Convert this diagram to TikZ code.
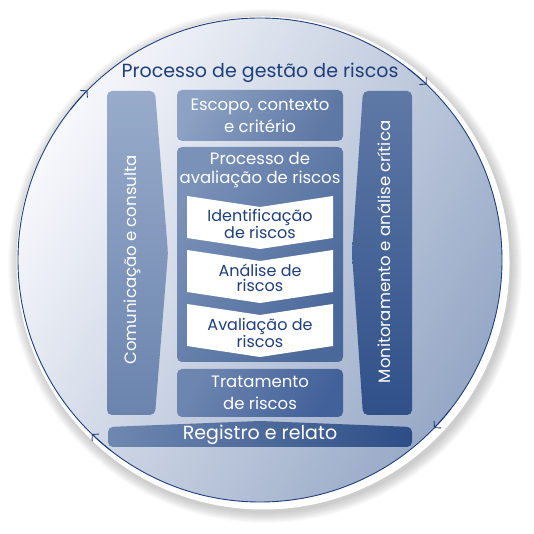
\documentclass[tikz,border=0pt]{standalone}
\usepackage{fontspec}
\setmainfont{Poppins}
\usetikzlibrary{arrows.meta}
\definecolor{navy}{HTML}{1E3F7B}
\definecolor{ringlight}{HTML}{F7F8FC}
\definecolor{ringdark}{HTML}{96A8C6}
\definecolor{commtop}{HTML}{98ABCA}
\definecolor{commbot}{HTML}{6B84AE}
\definecolor{montop}{HTML}{5F79A6}
\definecolor{monbot}{HTML}{2F5089}
\definecolor{escleft}{HTML}{8CA1C3}
\definecolor{escright}{HTML}{5E78A5}
\definecolor{procleft}{HTML}{7A91B8}
\definecolor{procright}{HTML}{4A6899}
\definecolor{tratleft}{HTML}{6D86B0}
\definecolor{tratright}{HTML}{42619A}
\definecolor{regleft}{HTML}{6F88B1}
\definecolor{regright}{HTML}{2C4D86}
\newcommand{\ChevPath}[1]{(187,#1) -- (260,#1-11) -- (333,#1) -- (333,#1-42) -- (260,#1-53) -- (187,#1-42) -- cycle}

\tikzset{
  panel/.style={rounded corners=5pt, inner sep=0pt},
  boxtext/.style={text=white, align=center, font=\fontsize{16.5}{22}\selectfont},
  chevtext/.style={text=navy, align=center, font=\fontsize{16}{15.5}\selectfont},
  ringarrow/.style={draw=navy, line width=0.9pt, -{Straight Barb[length=4.5pt,width=10pt]}},
}

\begin{document}
\begin{tikzpicture}[x=1pt,y=1pt]
    \useasboundingbox (0,0) rectangle (534,534);
    % Shadow, rim and ring
    \foreach \r in {247,...,257}
        \fill[black,opacity=0.018] (265,268) circle (\r);
    \fill[white] (263,271) circle (246.5);
    \shade[left color=ringlight, right color=ringdark, shading angle=60] (260,274) circle (242);
    \draw[navy, line width=0.9pt] (260,274) circle (242);
    \foreach \a in {135.5,46.5,-44,-134}
        \draw[ringarrow] (260,274) ++(\a+6:242) arc[start angle=\a+6, end angle=\a, radius=242];

    \node[text=navy, font=\fontsize{19}{22}\selectfont] (title) at (260,461) {Processo de gestão de riscos};

    % Side bars
    \path[panel, top color=commtop, bottom color=commbot] (107,443) -- (155,443) -- (168,281) -- (155,119) -- (107,119) -- cycle;
    \node[boxtext, rotate=90] (comunic) at (132,274) {Comunicação e consulta};
    \path[panel, top color=montop, bottom color=monbot] (363,443) -- (412,443) -- (412,119) -- (363,119) -- (352,281) -- cycle;
    \node[boxtext, rotate=90] (monitor) at (384,282) {Monitoramento e análise crítica};

    % Middle column
    \node[panel, left color=escleft, right color=escright, shading angle=60, minimum width=166pt, minimum height=51pt, boxtext] (escopo) at (260,418.5) {Escopo, contexto\\e critério};
    \node[panel, left color=procleft, right color=procright, shading angle=60, minimum width=166pt, minimum height=215pt] (processo) at (260,279.5) {};
    \node[boxtext, font=\fontsize{16.5}{19}\selectfont] (procname) at (260,364) {Processo de\\avaliação de riscos};

    \fill[white] \ChevPath{338};
    \node[chevtext] (ident) at (260,310) {Identificação\\de riscos};
    \fill[white] \ChevPath{284};
    \node[chevtext] (analise) at (260,256) {Análise de\\riscos};
    \fill[white] \ChevPath{230};
    \node[chevtext] (avaliacao) at (260,201) {Avaliação de\\riscos};

    \node[panel, left color=tratleft, right color=tratright, shading angle=60, minimum width=166pt, minimum height=48pt, boxtext] (tratamento) at (260,141) {Tratamento\\de riscos};

    % Bottom bar
    \path[panel, left color=regleft, right color=regright] (108,87) -- (412,87) -- (412,107) -- (260,113) -- (108,107) -- cycle;
    \node[text=white, font=\fontsize{19}{22}\selectfont] (registro) at (260,99) {Registro e relato};
\end{tikzpicture}
\end{document}
